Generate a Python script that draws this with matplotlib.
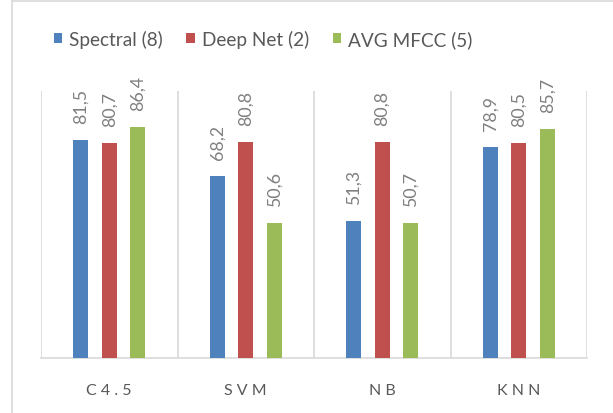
import matplotlib
matplotlib.use("Agg")
import matplotlib.pyplot as plt
import numpy as np
from matplotlib.lines import Line2D

# Classification accuracy (%) per classifier and feature set
classifiers = ["C4.5", "SVM", "NB", "KNN"]
series_names = ["Spectral (8)", "Deep Net (2)", "AVG MFCC (5)"]
spectral = [81.5, 68.2, 51.3, 78.9]
deep_net = [80.7, 80.8, 80.8, 80.5]
avg_mfcc = [86.4, 50.6, 50.7, 85.7]
colors = ["#4f81bd", "#c0504d", "#9bbb59"]

plt.rcParams["font.family"] = ["Lato", "DejaVu Sans"]

fig = plt.figure(figsize=(6.13, 4.14), dpi=100)
ax = fig.add_axes([41 / 613, 1 - 359 / 414, 546 / 613, 267 / 414])

x = np.arange(len(classifiers))
offset = 0.209
width = 0.11
label_color = "#7f7f7f"

for i, (name, vals) in enumerate(zip(series_names, [spectral, deep_net, avg_mfcc])):
    pos = x + (i - 1) * offset
    ax.bar(pos, vals, width=width, color=colors[i], label=name, zorder=3)
    for p, v in zip(pos, vals):
        ax.annotate(f"{v:.1f}".replace(".", ","), (p, v), xytext=(0, 17),
                    textcoords="offset pixels",
                    rotation=90, ha="center", va="bottom",
                    fontsize=12.8, color=label_color)

ax.set_xlim(-0.5, len(classifiers) - 0.5)
ax.set_ylim(0, 100)
ax.set_yticks([])

# vertical separators between categories
for b in np.arange(-0.5, len(classifiers), 1.0):
    ax.axvline(b, color="#d9d9d9", lw=1.2, zorder=1)

for s in ["top", "right", "left"]:
    ax.spines[s].set_visible(False)
ax.spines["bottom"].set_color("#d9d9d9")
ax.spines["bottom"].set_linewidth(1.2)

ax.set_xticks(x)
ax.set_xticklabels([" ".join(c) for c in classifiers], fontsize=11.5,
                   color="#595959")
ax.tick_params(axis="x", length=0, pad=18)

leg = fig.legend(loc="center", bbox_to_anchor=(263 / 613, 1 - 40 / 414),
                 ncol=3, frameon=False, fontsize=13.7, handlelength=0.45,
                 handleheight=0.45, handletextpad=0.35, columnspacing=1.25,
                 labelcolor="#595959")

# outer chart frame
fig.add_artist(Line2D([12 / 613, 12 / 613], [0, 1 - 2 / 414], color="#d9d9d9",
                      lw=1.2, transform=fig.transFigure))
fig.add_artist(Line2D([12 / 613, 1], [1 - 2 / 414, 1 - 2 / 414], color="#d9d9d9",
                      lw=1.2, transform=fig.transFigure))

fig.savefig("out.png", dpi=100)
